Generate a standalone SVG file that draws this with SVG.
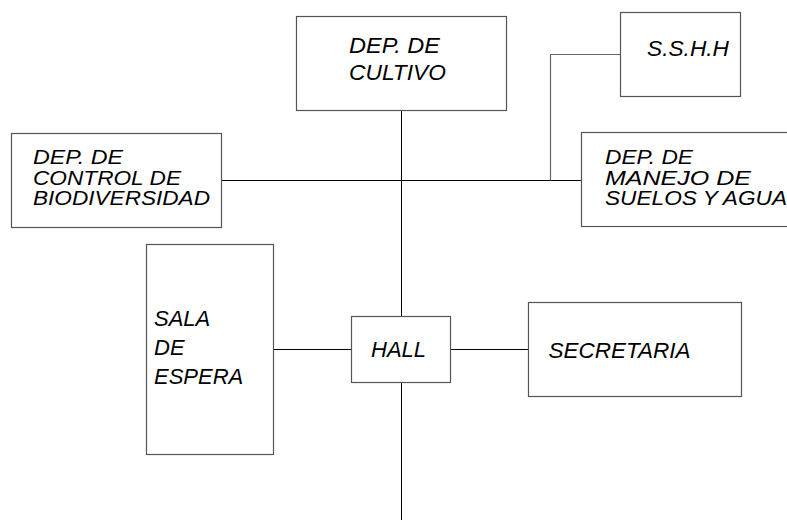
<svg xmlns="http://www.w3.org/2000/svg" width="787" height="520" viewBox="0 0 787 520">
<style>
.box{fill:#fff;stroke:#555;stroke-width:1.2}
.ln{fill:none;stroke:#000;stroke-width:1}
.ln2{fill:none;stroke:#666;stroke-width:1.2}
text{font-family:"Liberation Sans",Arial,sans-serif;font-style:italic;fill:#000}
.t22{font-size:22px}
.t215{font-size:21.5px}
.t20{font-size:20px}
</style>
<rect width="787" height="520" fill="#fff"/>
<g id="connectors">
<path class="ln" d="M401.5 110.5V316.5"/>
<path class="ln" d="M401.5 382.5V520"/>
<path class="ln" d="M221.5 180.5H581.5"/>
<path class="ln2" d="M620.5 54.5H550.5V180.5"/>
<path class="ln" d="M273.5 349.5H351.5"/>
<path class="ln" d="M450.5 349.5H528.5"/>
</g>
<g id="cultivo">
<rect class="box" x="296.5" y="16.5" width="210" height="94"/>
<text class="t215" x="349" y="53" textLength="91" lengthAdjust="spacingAndGlyphs">DEP. DE</text>
<text class="t215" x="349" y="80" textLength="97" lengthAdjust="spacingAndGlyphs">CULTIVO</text>
</g>
<g id="sshh">
<rect class="box" x="620.5" y="12.5" width="120" height="84"/>
<text class="t215" x="647" y="56" textLength="82" lengthAdjust="spacingAndGlyphs">S.S.H.H</text>
</g>
<g id="control">
<rect class="box" x="11.5" y="133.5" width="210" height="94"/>
<text class="t20" x="33" y="164" textLength="90" lengthAdjust="spacingAndGlyphs">DEP. DE</text>
<text class="t20" x="33" y="184.5" textLength="148" lengthAdjust="spacingAndGlyphs">CONTROL DE</text>
<text class="t20" x="33" y="205" textLength="177" lengthAdjust="spacingAndGlyphs">BIODIVERSIDAD</text>
</g>
<g id="manejo">
<rect class="box" x="581.5" y="132.5" width="220" height="94"/>
<text class="t20" x="605" y="164" textLength="88" lengthAdjust="spacingAndGlyphs">DEP. DE</text>
<text class="t20" x="605" y="184.5" textLength="146" lengthAdjust="spacingAndGlyphs">MANEJO DE</text>
<text class="t20" x="605" y="205" textLength="182" lengthAdjust="spacingAndGlyphs">SUELOS Y AGUA</text>
</g>
<g id="sala">
<rect class="box" x="146.5" y="244.5" width="127" height="210"/>
<text class="t22" x="154" y="326">SALA</text>
<text class="t22" x="154" y="355">DE</text>
<text class="t22" x="154" y="384">ESPERA</text>
</g>
<g id="hall">
<rect class="box" x="351.5" y="316.5" width="99" height="66"/>
<text class="t22" x="371" y="356.5">HALL</text>
</g>
<g id="secretaria">
<rect class="box" x="528.5" y="302.5" width="213" height="94"/>
<text class="t22" x="548.5" y="357.5" textLength="142" lengthAdjust="spacingAndGlyphs">SECRETARIA</text>
</g>
</svg>
